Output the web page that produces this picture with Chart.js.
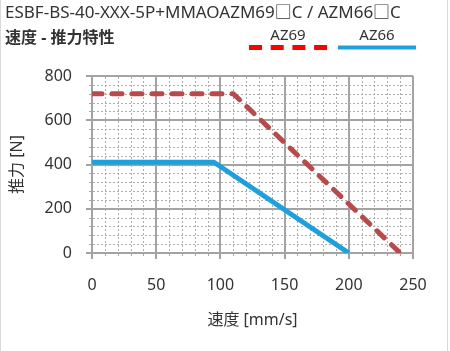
<!DOCTYPE html>
<html>
<head>
<meta charset="utf-8">
<script src="https://cdn.jsdelivr.net/npm/chart.js@4.4.0/dist/chart.umd.min.js"></script>
<style>
  html, body { margin: 0; padding: 0; background: #fff; }
  canvas { display: block; }
</style>
</head>
<body>
<canvas id="fuerzaChart" width="450" height="351"></canvas>
<script>
// Datos
const speedAZ69 = [0, 110, 240];
const forceAZ69 = [720, 720, 0];
const speedAZ66 = [0, 95, 200];
const forceAZ66 = [410, 410, 0];
const xTickValues = [0, 50, 100, 150, 200, 250];
const yTickValues = [0, 200, 400, 600, 800];

const fontFamily = "'Noto Sans', 'Noto Sans CJK JP', sans-serif";
const colors = {
    az69: '#b84a4c',
    az69Legend: '#ff0000',
    az66: '#1ea0dc',
    grid: '#a3a3a3',
    minor: '#adadad',
    text: '#333333'
};

function toPoints(xs, ys) {
    return xs.map((x, i) => ({ x: x, y: ys[i] }));
}

// Rejilla secundaria punteada y marcas menores
const minorGridPlugin = {
    id: 'minorGrid',
    beforeDatasetsDraw(chart) {
        const ctx = chart.ctx;
        const xs = chart.scales.x;
        const ys = chart.scales.y;
        const area = chart.chartArea;
        ctx.save();
        ctx.strokeStyle = colors.minor;
        ctx.lineWidth = 1;
        ctx.setLineDash([2, 2]);
        for (let v = 10; v < 250; v += 10) {
            if (v % 50 === 0) continue;
            const px = Math.round(xs.getPixelForValue(v)) + 0.5;
            ctx.beginPath();
            ctx.moveTo(px, area.top + 1);
            ctx.lineTo(px, area.bottom - 1);
            ctx.stroke();
        }
        for (let v = 40; v < 800; v += 40) {
            if (v % 200 === 0) continue;
            const py = Math.round(ys.getPixelForValue(v)) + 0.5;
            ctx.beginPath();
            ctx.moveTo(area.left + 1, py);
            ctx.lineTo(area.right - 1, py);
            ctx.stroke();
        }
        // marcas menores en los ejes
        ctx.setLineDash([]);
        ctx.strokeStyle = colors.grid;
        for (let v = 10; v < 250; v += 10) {
            if (v % 50 === 0) continue;
            const px = Math.round(xs.getPixelForValue(v)) + 0.5;
            ctx.beginPath();
            ctx.moveTo(px, area.bottom);
            ctx.lineTo(px, area.bottom + 3);
            ctx.stroke();
        }
        for (let v = 40; v < 800; v += 40) {
            if (v % 200 === 0) continue;
            const py = Math.round(ys.getPixelForValue(v)) + 0.5;
            ctx.beginPath();
            ctx.moveTo(area.left - 3, py);
            ctx.lineTo(area.left, py);
            ctx.stroke();
        }
        ctx.restore();
    },
    afterDraw(chart) {
        const ctx = chart.ctx;
        ctx.save();
        // marco
        ctx.strokeStyle = '#d9d9d9';
        ctx.lineWidth = 1;
        ctx.beginPath();
        ctx.moveTo(0.5, 0);
        ctx.lineTo(0.5, chart.height);
        ctx.moveTo(447.5, 0);
        ctx.lineTo(447.5, chart.height);
        ctx.stroke();

        // títulos
        ctx.fillStyle = colors.text;
        ctx.textBaseline = 'middle';
        ctx.textAlign = 'left';
        ctx.font = '17px ' + fontFamily;
        ctx.fillText('ESBF-BS-40-XXX-5P+MMAOAZM69\u25A1C / AZM66\u25A1C', 5, 13);
        ctx.font = 'bold 16px ' + fontFamily;
        ctx.fillText('速度 - 推力特性', 5, 38);

        // leyenda
        ctx.font = '15px ' + fontFamily;
        ctx.textAlign = 'center';
        ctx.fillText('AZ69', 288, 36);
        ctx.fillText('AZ66', 377, 36);
        ctx.lineWidth = 5;
        ctx.strokeStyle = colors.az69Legend;
        ctx.setLineDash([13, 8.7]);
        ctx.beginPath();
        ctx.moveTo(249, 47.5);
        ctx.lineTo(328, 47.5);
        ctx.stroke();
        ctx.setLineDash([]);
        ctx.lineWidth = 4;
        ctx.strokeStyle = colors.az66;
        ctx.beginPath();
        ctx.moveTo(338, 47.5);
        ctx.lineTo(416, 47.5);
        ctx.stroke();
        ctx.restore();
    }
};

Chart.defaults.font.family = fontFamily;
Chart.defaults.color = colors.text;

new Chart(document.getElementById('fuerzaChart').getContext('2d'), {
    type: 'scatter',
    data: {
        datasets: [{
            label: 'AZ69',
            data: toPoints(speedAZ69, forceAZ69),
            showLine: true,
            borderColor: colors.az69,
            borderWidth: 5,
            borderDash: [10, 10],
            borderCapStyle: 'round',
            borderJoinStyle: 'round',
            pointRadius: 0,
            tension: 0
        }, {
            label: 'AZ66',
            data: toPoints(speedAZ66, forceAZ66),
            showLine: true,
            borderColor: colors.az66,
            borderWidth: 5,
            borderJoinStyle: 'round',
            pointRadius: 0,
            tension: 0
        }]
    },
    options: {
        responsive: false,
        animation: false,
        devicePixelRatio: 1,
        layout: {
            padding: { left: 8, top: 76, right: 37, bottom: 21 }
        },
        plugins: {
            legend: { display: false },
            tooltip: { enabled: false }
        },
        scales: {
            x: {
                type: 'linear',
                min: 0,
                max: 250,
                afterBuildTicks(scale) {
                    scale.ticks = xTickValues.map(v => ({ value: v }));
                },
                afterFit(scale) {
                    scale.height = 77;
                },
                grid: {
                    color: colors.grid,
                    lineWidth: 2,
                    tickLength: 6
                },
                border: { color: colors.grid, width: 2 },
                ticks: {
                    font: { size: 16 },
                    color: colors.text,
                    padding: 17,
                    maxRotation: 0
                },
                title: {
                    display: true,
                    text: '速度 [mm/s]',
                    font: { size: 16 },
                    color: colors.text,
                    padding: { top: 0, bottom: 0 }
                }
            },
            y: {
                type: 'linear',
                min: 0,
                max: 800,
                afterBuildTicks(scale) {
                    scale.ticks = yTickValues.map(v => ({ value: v }));
                },
                afterFit(scale) {
                    scale.width = 84;
                },
                grid: {
                    color: colors.grid,
                    lineWidth: 2,
                    tickLength: 6
                },
                border: { color: colors.grid, width: 2 },
                ticks: {
                    font: { size: 16 },
                    color: colors.text,
                    padding: 14
                },
                title: {
                    display: true,
                    text: '推力 [N]',
                    font: { size: 16 },
                    color: colors.text,
                    padding: { top: 0, bottom: 0 }
                }
            }
        }
    },
    plugins: [minorGridPlugin]
});
</script>
</body>
</html>
